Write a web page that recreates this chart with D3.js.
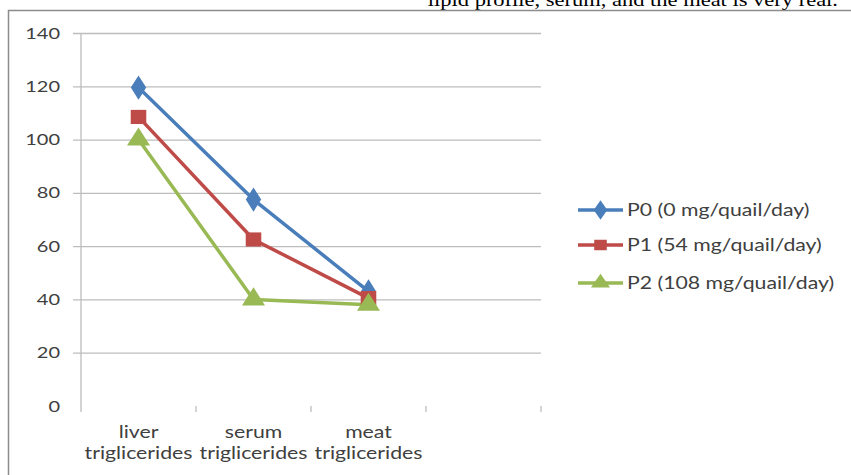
<!DOCTYPE html>
<html>
  <head>
    <meta charset="utf-8">
    <script type="text/javascript" src="https://d3js.org/d3.v7.min.js"></script>
  </head>
  <style>
body { margin: 0; background: #fff; }
text { font-family: Lato, "Open Sans", sans-serif; fill: #404040; }
  </style>
  <body>
    <div id="my_chart"></div>
    <script type="text/javascript">
        // data
        var categories = ["liver triglicerides", "serum triglicerides", "meat triglicerides", ""];
        var seriesNames = ["P0 (0 mg/quail/day)", "P1 (54 mg/quail/day)", "P2 (108 mg/quail/day)"];
        var p0 = [119.5, 77.5, 43];
        var p1 = [108.5, 62.5, 40.5];
        var p2 = [100, 40, 38];
        var yTicks = [0, 20, 40, 60, 80, 100, 120, 140];

        var colors = ["#4a7ebb", "#be4b48", "#98b954"];
        var shapes = [d3.symbolDiamond, d3.symbolSquare, d3.symbolTriangle];
        var series = [p0, p1, p2];

        // the original picture is stretched sideways, so text is widened a bit
        var stretch = 1.25;

        var width = 851, height = 475;
        var svg = d3.select("#my_chart")
            .append("svg")
                .attr("width", width)
                .attr("height", height);

        // caption text cut off at the top of the page
        svg.append("text")
            .attr("transform", "translate(838,6) scale(" + stretch + ",1)")
            .attr("text-anchor", "end")
            .style("font-family", "'Liberation Serif', serif")
            .style("font-size", "18px")
            .style("fill", "#000")
            .text("lipid profile, serum, and the meat is very real.");

        // outer frame of the chart
        svg.append("rect")
            .attr("x", 8.5)
            .attr("y", 10.5)
            .attr("width", 900)
            .attr("height", 600)
            .attr("fill", "none")
            .attr("stroke", "#8c8c8c")
            .attr("stroke-width", 1.5);

        var x = d3.scaleBand()
                .domain(categories)
                .range([81, 541]);

        var y = d3.scaleLinear()
                .domain([0, 140])
                .range([406, 33]);

        // gridlines + y labels
        var yAxis = svg.append("g")
            .attr("transform", "translate(81,0)")
            .call(d3.axisLeft(y).tickValues(yTicks).tickSize(-460));
        yAxis.select(".domain").remove();
        yAxis.selectAll(".tick line")
            .attr("x1", -8)
            .attr("stroke", function(d) { return d === 0 ? "none" : "#bdbdbd"; })
            .attr("stroke-width", 1.3);
        yAxis.selectAll(".tick text")
            .attr("x", -21 / stretch)
            .attr("transform", "scale(" + stretch + ",1)")
            .style("font-family", "Lato, sans-serif")
            .style("font-size", "16px")
            .attr("fill", "#404040");

        // vertical axis line
        svg.append("line")
            .attr("x1", 81).attr("x2", 81)
            .attr("y1", 33).attr("y2", 412)
            .attr("stroke", "#bdbdbd")
            .attr("stroke-width", 1.3);

        // x ticks between categories
        var xTickPos = categories.map(function(c) { return x(c); }).concat([x.range()[1]]);
        svg.append("g")
            .selectAll("line")
            .data(xTickPos.slice(1))
            .enter().append("line")
                .attr("x1", function(d) { return d; })
                .attr("x2", function(d) { return d; })
                .attr("y1", 406).attr("y2", 412)
                .attr("stroke", "#bdbdbd")
                .attr("stroke-width", 1.3);

        // category labels, two lines
        var catLabels = svg.append("g")
            .selectAll("text")
            .data(categories.filter(function(c) { return c !== ""; }))
            .enter().append("text")
                .attr("transform", function(d) {
                    return "translate(" + (x(d) + x.bandwidth() / 2) + ",438) scale(" + stretch + ",1)";
                })
                .attr("text-anchor", "middle")
                .style("font-size", "17px");
        catLabels.append("tspan")
            .attr("x", 0)
            .text(function(d) { return d.split(" ")[0]; });
        catLabels.append("tspan")
            .attr("x", 0)
            .attr("dy", 21)
            .text(function(d) { return d.split(" ")[1]; });

        // lines and markers
        var line = d3.line()
            .x(function(d, i) { return x(categories[i]) + x.bandwidth() / 2; })
            .y(function(d) { return y(d); });

        series.forEach(function(vals, s) {
            svg.append("path")
                .datum(vals)
                .attr("d", line)
                .attr("fill", "none")
                .attr("stroke", colors[s])
                .attr("stroke-width", 3.5)
                .attr("stroke-linejoin", "round");
        });
        series.forEach(function(vals, s) {
            var sizes = [170, 200, 190];
            svg.append("g")
                .selectAll("path")
                .data(vals)
                .enter().append("path")
                    .attr("transform", function(d, i) {
                        return "translate(" + (x(categories[i]) + x.bandwidth() / 2) + "," + y(d) + ") scale(1.1,1)";
                    })
                    .attr("d", d3.symbol().type(shapes[s]).size(sizes[s]))
                    .attr("fill", colors[s]);
        });

        // legend
        var legendY = [210, 245, 283];
        var legend = svg.append("g")
            .selectAll("g")
            .data(seriesNames)
            .enter().append("g")
                .attr("transform", function(d, i) { return "translate(578," + legendY[i] + ")"; });
        legend.append("line")
            .attr("x1", 0).attr("x2", 45)
            .attr("stroke", function(d, i) { return colors[i]; })
            .attr("stroke-width", 3.5);
        legend.append("path")
            .attr("transform", "translate(22.5,0) scale(1.2,1)")
            .attr("d", function(d, i) { return d3.symbol().type(shapes[i]).size(110)(); })
            .attr("fill", function(d, i) { return colors[i]; });
        legend.append("text")
            .attr("transform", "translate(49,6) scale(" + stretch + ",1)")
            .style("font-size", "17px")
            .text(function(d) { return d; });
    </script>
  </body>
</html>
